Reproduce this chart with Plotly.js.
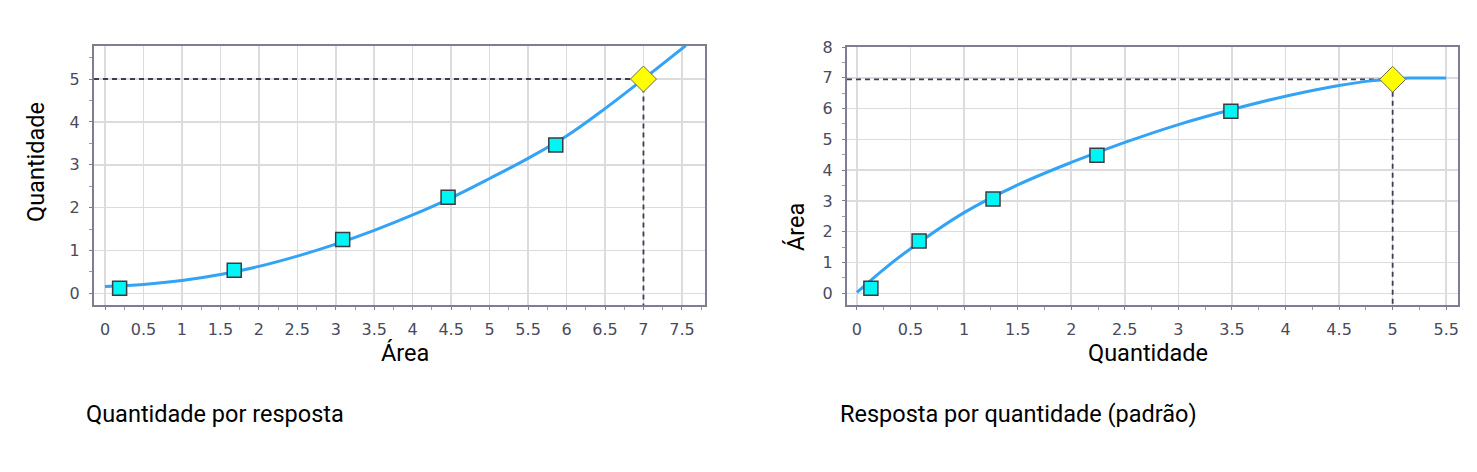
<!DOCTYPE html>
<html>
<head>
<meta charset="utf-8">
<script src="https://cdn.plot.ly/plotly-3.0.1.min.js"></script>
<style>html,body{margin:0;padding:0;background:#fff;}#chart{width:1477px;height:472px;}</style>
</head>
<body>
<div id="chart"></div>
<script>
// ---- Left chart: Quantidade por resposta (x = Área, y = Quantidade)
const leftCurveArea = [0, 0.5, 1, 1.5, 2, 2.5, 3, 3.5, 4, 4.5, 5, 5.5, 6, 6.5, 7, 7.55];
const leftCurveQty  = [0.16, 0.21, 0.30, 0.44, 0.63, 0.87, 1.15, 1.47, 1.83, 2.23, 2.68, 3.15, 3.67, 4.31, 5.0, 5.78];
const leftPointArea = [0.19, 1.68, 3.09, 4.46, 5.86];
const leftPointQty  = [0.12, 0.54, 1.26, 2.24, 3.46];
const leftTargetArea = [7.0];
const leftTargetQty  = [5.0];
const leftXRange = [-0.143, 7.8];
const leftYRange = [-0.27, 5.77];

// ---- Right chart: Resposta por quantidade (padrão) (x = Quantidade, y = Área)
const rightCurveQty  = [0, 0.25, 0.5, 1, 1.5, 2, 2.5, 3, 3.5, 4, 4.5, 4.8, 5, 5.15, 5.5];
const rightCurveArea = [0.03, 0.78, 1.45, 2.62, 3.52, 4.25, 4.9, 5.48, 5.97, 6.4, 6.75, 6.9, 6.95, 6.99, 6.99];
const rightPointQty  = [0.13, 0.58, 1.27, 2.24, 3.49];
const rightPointArea = [0.16, 1.70, 3.06, 4.48, 5.91];
const rightTargetQty  = [5.0];
const rightTargetArea = [6.95];
const rightXRange = [-0.093, 5.61];
const rightYRange = [-0.38, 8];

const chartTitles = ['Quantidade por resposta', 'Resposta por quantidade (padrão)'];
const axisTitles = {leftX: 'Área', leftY: 'Quantidade', rightX: 'Quantidade', rightY: 'Área'};

const lineColor = '#33a3f5';
const frameColor = '#7d7d93';
const tickColor = '#4a4a5c';
const gridColor = '#dedbe0';
const dashColor = '#3c3f50';

function dashTrace(target, range, xa, ya) {
  return {
    x: [range.x[0], target.x[0], target.x[0]],
    y: [target.y[0], target.y[0], range.y[0]],
    xaxis: xa, yaxis: ya, mode: 'lines', hoverinfo: 'skip',
    line: {color: dashColor, width: 1.8, dash: '5px,4px'}, showlegend: false
  };
}

const traces = [
  dashTrace({x: leftTargetArea, y: leftTargetQty}, {x: leftXRange, y: leftYRange}, 'x', 'y'),
  {x: leftCurveArea, y: leftCurveQty, xaxis: 'x', yaxis: 'y', mode: 'lines',
   line: {color: lineColor, width: 3, shape: 'spline', smoothing: 1}, showlegend: false},
  {x: leftPointArea, y: leftPointQty, xaxis: 'x', yaxis: 'y', mode: 'markers',
   marker: {symbol: 'square', size: 14, color: '#00f5f5', line: {color: '#3b3b45', width: 1.5}}, showlegend: false},
  {x: leftTargetArea, y: leftTargetQty, xaxis: 'x', yaxis: 'y', mode: 'markers',
   marker: {symbol: 'diamond', size: 20, color: '#ffff00', line: {color: '#6b6b55', width: 1}}, showlegend: false},

  dashTrace({x: rightTargetQty, y: rightTargetArea}, {x: rightXRange, y: rightYRange}, 'x2', 'y2'),
  {x: rightCurveQty, y: rightCurveArea, xaxis: 'x2', yaxis: 'y2', mode: 'lines',
   line: {color: lineColor, width: 3, shape: 'spline', smoothing: 1}, showlegend: false},
  {x: rightPointQty, y: rightPointArea, xaxis: 'x2', yaxis: 'y2', mode: 'markers',
   marker: {symbol: 'square', size: 14, color: '#00f5f5', line: {color: '#3b3b45', width: 1.5}}, showlegend: false},
  {x: rightTargetQty, y: rightTargetArea, xaxis: 'x2', yaxis: 'y2', mode: 'markers',
   marker: {symbol: 'diamond', size: 20, color: '#ffff00', line: {color: '#6b6b55', width: 1}}, showlegend: false}
];

const W = 1477, H = 472;
const px = v => v / W;
const py = v => 1 - v / H;

function axisBase(range, dtick, minorDtick) {
  return {
    range: range, dtick: dtick, tick0: 0, showgrid: true, gridcolor: gridColor, gridwidth: 1.5,
    zeroline: false, showline: true, mirror: true, linecolor: frameColor, linewidth: 2,
    ticks: 'outside', ticklen: 3, tickcolor: frameColor,
    minor: {dtick: minorDtick, ticks: 'outside', ticklen: 3, tickcolor: '#9a9aae', showgrid: false},
    tickfont: {family: 'DejaVu Sans, Verdana, sans-serif', size: 16, color: tickColor},
    fixedrange: true
  };
}

const titleFont = {family: 'Roboto, sans-serif', size: 23.5, color: '#000'};

const layout = {
  width: W, height: H,
  margin: {l: 0, r: 0, t: 0, b: 0},
  paper_bgcolor: '#ffffff', plot_bgcolor: '#ffffff',
  showlegend: false,
  xaxis: Object.assign(axisBase(leftXRange, 0.5, 0.25), {domain: [px(94), px(705)], anchor: 'y', ticklabelstandoff: 6}),
  yaxis: Object.assign(axisBase(leftYRange, 1, 0.5), {domain: [py(305), py(46)], anchor: 'x', ticklabelstandoff: 6}),
  xaxis2: Object.assign(axisBase(rightXRange, 0.5, 0.25), {domain: [px(847), px(1458)], anchor: 'y2', ticklabelstandoff: 6}),
  yaxis2: Object.assign(axisBase(rightYRange, 1, 0.5), {domain: [py(305), py(47)], anchor: 'x2', ticklabelstandoff: 6}),
  annotations: [
    {text: axisTitles.leftX, x: px(405), y: py(353), xref: 'paper', yref: 'paper', showarrow: false,
     xanchor: 'center', yanchor: 'middle', font: titleFont},
    {text: axisTitles.leftY, x: px(36), y: py(162), xref: 'paper', yref: 'paper', showarrow: false, textangle: -90,
     xanchor: 'center', yanchor: 'middle', font: titleFont},
    {text: axisTitles.rightX, x: px(1148), y: py(353), xref: 'paper', yref: 'paper', showarrow: false,
     xanchor: 'center', yanchor: 'middle', font: titleFont},
    {text: axisTitles.rightY, x: px(796), y: py(227), xref: 'paper', yref: 'paper', showarrow: false, textangle: -90,
     xanchor: 'center', yanchor: 'middle', font: titleFont},
    {text: chartTitles[0], x: px(84), y: py(414), xref: 'paper', yref: 'paper', showarrow: false,
     xanchor: 'left', yanchor: 'middle', font: titleFont},
    {text: chartTitles[1], x: px(838), y: py(414), xref: 'paper', yref: 'paper', showarrow: false,
     xanchor: 'left', yanchor: 'middle', font: titleFont}
  ]
};

Plotly.newPlot('chart', traces, layout, {displayModeBar: false, staticPlot: true});
</script>
</body>
</html>
